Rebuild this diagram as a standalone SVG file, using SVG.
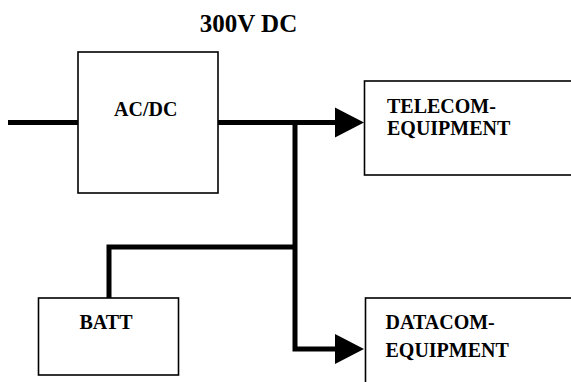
<svg xmlns="http://www.w3.org/2000/svg" width="571" height="382" viewBox="0 0 571 382">
<style>
.box{fill:#fff;stroke:#000;stroke-width:1.6}
.t{font-family:"Liberation Serif","Times New Roman",serif;font-weight:bold;font-size:20px;fill:#000}
.w{fill:none;stroke:#000;stroke-width:5;stroke-linejoin:miter;stroke-linecap:butt}
.ah{fill:#000}
</style>
<rect width="571" height="382" fill="#fff"/>
<text class="t" x="248.5" y="31.5" text-anchor="middle" style="font-size:25px">300V DC</text>
<g id="connectors">
<path class="w" d="M8 122.5H78"/>
<path class="w" d="M218 122.5H337"/>
<polygon class="ah" points="335,107.5 364,122.5 335,137.5"/>
<path class="w" d="M295 122.5V349H337"/>
<polygon class="ah" points="335,334 364,349 335,364"/>
<path class="w" d="M295 247H109V298"/>
</g>
<g id="acdc">
<rect class="box" x="78" y="52" width="140" height="141"/>
<text class="t" x="114" y="116">AC/DC</text>
</g>
<g id="telecom">
<rect class="box" x="364.5" y="81" width="220" height="94"/>
<text class="t" x="387" y="112.5">TELECOM-</text>
<text class="t" x="387" y="135">EQUIPMENT</text>
</g>
<g id="batt">
<rect class="box" x="38.5" y="298" width="140" height="77"/>
<text class="t" x="79.5" y="329">BATT</text>
</g>
<g id="datacom">
<rect class="box" x="365.5" y="298" width="220" height="100"/>
<text class="t" x="385.5" y="329">DATACOM-</text>
<text class="t" x="385.5" y="356.5">EQUIPMENT</text>
</g>
</svg>
